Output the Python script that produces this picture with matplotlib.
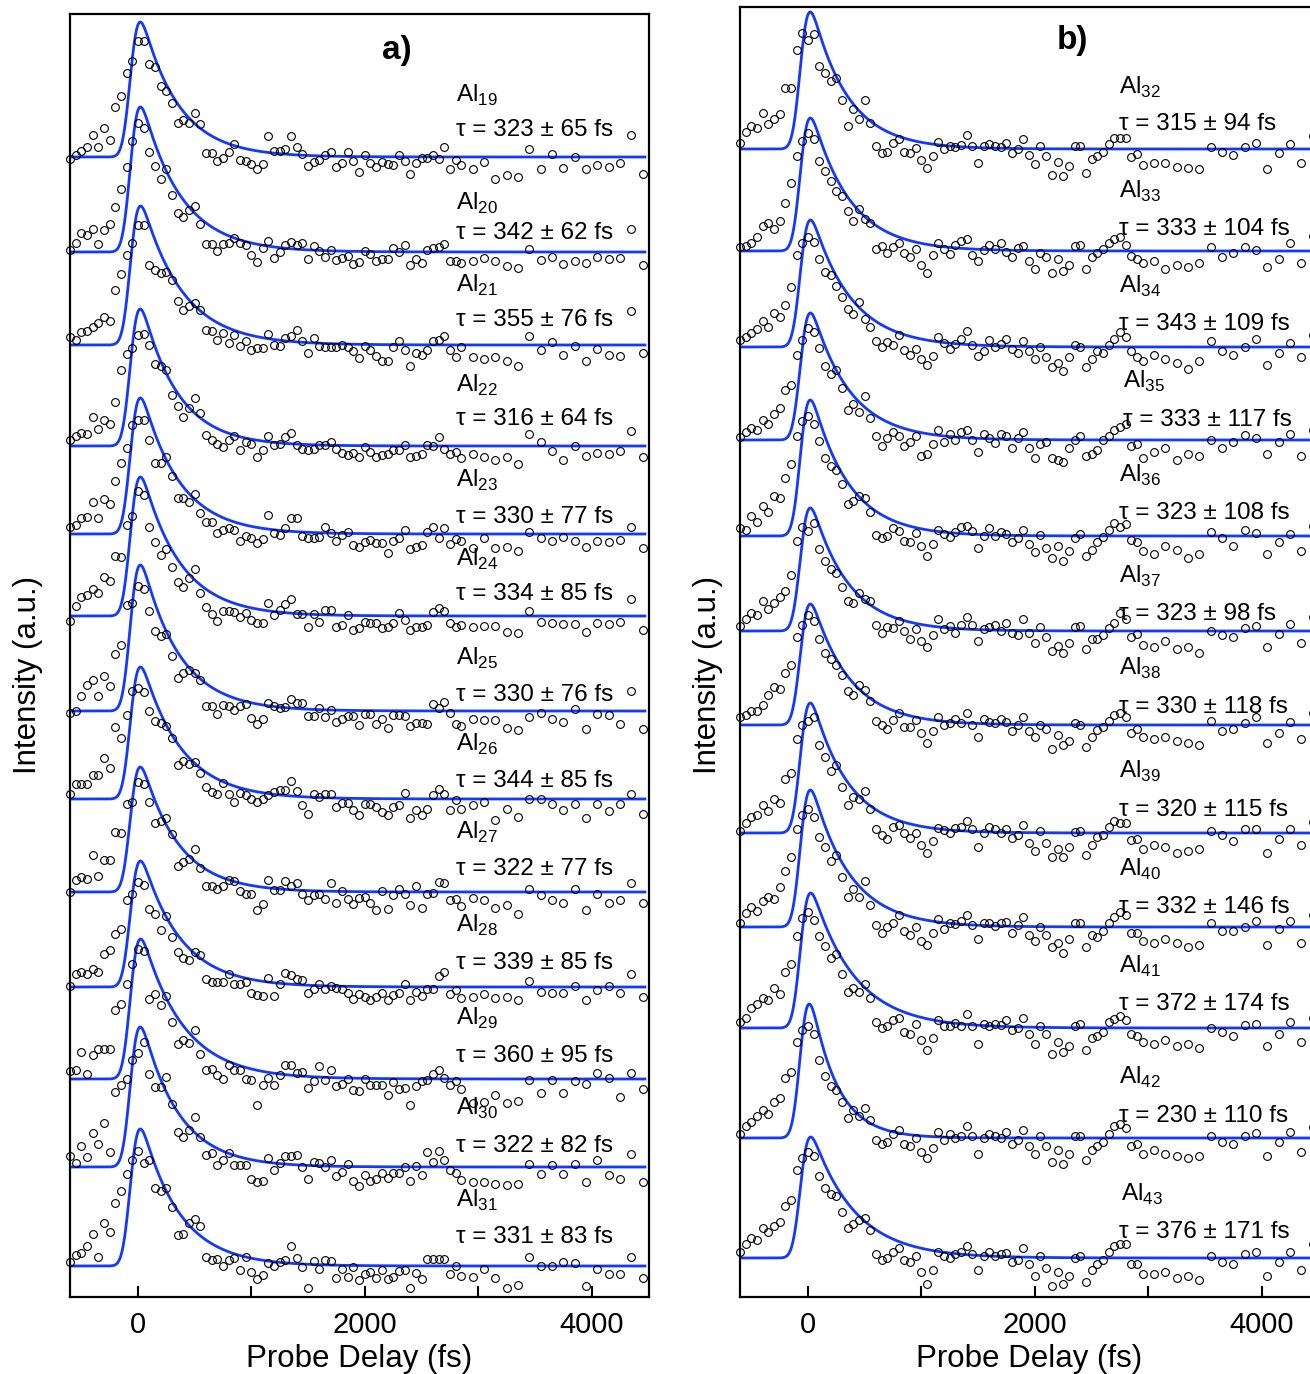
import math
import numpy as np
import matplotlib
matplotlib.use("Agg")
import matplotlib.pyplot as plt
from matplotlib.ticker import FixedLocator

plt.rcParams['font.family'] = ['Liberation Sans', 'DejaVu Sans']

# ---------------- data ----------------
# probe delays (fs)
delay_a = list(range(-600, 2900, 50)) + list(range(2950, 4500, 100))
delay_b = list(range(-600, 3000, 50)) + list(range(3050, 4550, 100))

clusters_a = [19, 20, 21, 22, 23, 24, 25, 26, 27, 28, 29, 30, 31]
tau_a = [323, 342, 355, 316, 330, 334, 330, 344, 322, 339, 360, 322, 331]
err_a = [65, 62, 76, 64, 77, 85, 76, 85, 77, 85, 95, 82, 83]
amp_a = [135, 145, 139, 137, 136, 139, 146, 132, 125, 126, 140, 140, 137]

clusters_b = [32, 33, 34, 35, 36, 37, 38, 39, 40, 41, 42, 43]
tau_b = [315, 333, 343, 333, 323, 323, 330, 320, 332, 372, 230, 376]
err_b = [94, 104, 109, 117, 108, 98, 118, 115, 146, 174, 110, 171]
amp_b = [137, 133, 127, 127, 136, 123, 121, 130, 137, 135, 134, 121]

# measured intensities (a.u.), one list per cluster size
I19 = [-2,2,6,10,22,10,29,17,50,61, 84,96,116,116,93,90,71,66,54,34, 37,34,44,33,4,4,-4,-1,5,13,
       -3,-4,-7,-12,-7,21,6,6,8,21, 10,3,-9,-5,-3,2,5,-10,-6,5, -4,-15,2,-6,-10,-5,-7,-8,2,-4,
       -17,-6,-1,-1,2,-2,10,-12,-3,-8, -12,-5,-22,-18,-20,8,-12,3,-11,0, -12,-8,-10,-6,22,-17]
I20 = [2,9,19,17,23,8,22,28,45,63, 85,111,129,124,100,86,73,83,57,39, 35,42,46,28,8,8,1,8,9,14,
       9,7,-3,-10,4,11,-6,0,7,10, 7,9,-7,6,1,-5,2,-8,-6,-4, -12,-10,1,-2,-9,-7,-7,4,0,7,
       -13,-7,-11,2,4,5,8,-9,-9,-11, -9,-6,-9,-14,-16,3,-8,-5,-12,-9, -11,-5,-7,-6,23,-13]
I21 = [8,5,13,14,18,22,28,24,55,71, 90,102,120,120,80,75,72,73,65,44, 35,39,42,35,15,14,5,12,2,10,
       -1,4,-5,-3,-3,11,0,-1,7,9, 15,4,-8,7,-1,-2,-2,-2,0,-2, -6,-13,-1,-5,-11,-16,-16,-2,4,-5,
       -21,-8,-10,-5,4,5,9,-5,-12,-2, -12,-14,-12,-16,-21,9,-5,3,-10,-1, -16,-4,-10,-11,34,-8]
I22 = [6,10,13,12,29,17,26,22,44,76, 92,98,111,112,101,82,80,76,51,40, 29,38,48,33,11,6,2,-1,6,10,
       -4,4,2,-11,-4,10,1,2,9,13, 1,-3,-4,-3,1,1,4,-3,-7,-9, -7,-11,-1,-6,-11,-9,-8,-4,-4,1,
       -11,-10,-8,1,0,9,-3,-8,-6,-12, -8,-11,-14,-11,-18,12,4,-5,-14,0, -10,-7,-8,-5,15,-11]
I23 = [7,9,16,17,32,16,35,30,53,71, 86,109,114,114,94,71,71,77,58,36, 36,32,40,21,12,12,1,4,6,4,
       -7,-2,-4,-9,-5,19,1,-1,6,16, 16,-2,-4,-4,-3,7,1,-7,-1,2, -11,-13,-8,-6,-9,-9,-19,-7,-4,4,
       -15,-13,-11,2,7,-4,6,-10,-5,-7, -14,-4,-14,-13,-17,2,-4,-7,-3,-7, -13,-7,-8,-6,7,-14]
I24 = [-5,10,19,21,27,23,39,35,60,59, 91,100,125,121,89,74,61,67,49,34, 29,38,47,23,9,2,-5,5,5,4,
       -1,3,-4,-7,-7,13,1,6,12,17, 2,2,-11,2,-6,6,6,-11,-9,1, -14,-12,-6,-7,-7,-12,-11,-7,3,-4,
       -14,-11,-11,-9,4,8,5,-7,-11,-9, -11,-10,-10,-16,-17,5,-6,-7,-8,-8, -16,-7,-8,-6,17,-14]
I25 = [-2,0,15,26,31,15,35,25,57,66, 106,108,125,122,100,80,75,77,55,33, 38,41,38,31,5,5,-3,6,5,1,
       5,7,-7,-13,-8,8,5,3,4,12, 8,8,-5,-5,3,-6,1,-11,-8,-5, -5,-14,-3,-3,-13,-8,-17,-4,-4,-5,
       -15,-12,-12,-13,7,3,9,-2,-13,-15, -8,-9,-9,-17,-19,-6,-2,-8,-11,2, -18,-3,-4,-13,20,-18]
I26 = [5,15,15,15,24,24,41,31,72,61, 84,108,111,107,88,78,76,73,61,34, 38,35,37,26,12,7,5,16,5,-3,
       6,4,0,-3,0,4,7,9,9,18, 8,-6,-15,5,2,5,5,-8,-4,-4, -11,-16,-5,-5,-8,-13,-16,-8,-6,6,
       -19,-11,-16,-10,4,10,5,-11,-1,-10, -6,-3,-21,-10,-18,0,0,-5,-11,-5, -19,-5,-12,-5,5,-15]
I27 = [0,12,15,13,37,16,32,32,60,59, 88,90,110,108,90,69,71,74,58,26, 30,33,43,24,6,6,3,6,12,11,
       1,-2,-2,-18,-12,12,2,2,11,6, 9,-2,-8,-3,-2,-7,9,-11,1,-7, -12,-6,-5,-11,-18,1,-17,-3,3,-2,
       -13,6,-16,-2,-1,10,9,-8,-7,-14, -6,-8,-16,-13,-22,3,-3,-8,-11,3, -18,-2,-11,-8,9,-11]
I28 = [1,13,15,13,18,15,33,37,53,58, 87,93,105,102,78,73,57,71,50,35, 29,27,35,32,8,5,5,5,13,3,
       3,5,-6,-8,-9,9,-9,3,14,12, 8,7,-6,-2,3,-2,1,-1,-2,-6, -12,-7,-10,-13,-10,-6,-13,-8,-6,3,
       -13,-5,-9,-2,-2,11,15,-7,-3,-11, -10,-7,-11,-10,-13,6,-5,-6,-6,1, -13,-3,1,-6,13,-10]
I29 = [8,9,27,5,24,30,30,30,69,75, 95,115,130,128,80,85,74,83,57,35, 39,36,49,25,9,10,4,0,14,9,
       9,0,-1,-26,-6,1,-6,4,14,14, 6,7,-9,-2,13,-1,9,-7,-5,0, -11,-12,0,-6,-6,-6,-16,-3,-10,-9,
       -26,-7,-2,-1,5,9,1,-6,-2,-10, -24,-23,-16,-24,-22,-1,-14,-1,-14,-2, -5,6,1,-18,6,-10]
I30 = [11,4,21,10,34,23,44,15,75,82, 88,107,114,125,93,80,80,90,63,35, 30,37,50,30,12,14,2,7,14,2,
       2,2,-12,-15,-14,9,-3,4,11,11, 12,0,-12,5,4,0,7,-9,-5,3, -14,-19,-8,-14,-12,-6,-11,-6,-6,0,
       -14,1,-8,15,5,16,7,-3,-6,-13, -15,-15,-17,-18,-17,3,-7,2,-7,3, -15,7,-8,-12,13,-15]
I31 = [4,11,13,20,32,9,43,34,63,75, 92,106,115,103,106,78,75,78,59,31, 32,43,47,40,9,6,7,0,6,8,
       -4,9,-6,-13,-9,3,0,4,6,20, 8,-1,-22,5,-3,6,5,-12,-3,-11, -1,-14,-8,-6,-12,-4,-13,-11,-5,-4,
       -22,-7,-13,7,7,7,7,-8,0,-10, -11,-3,-12,-22,-19,9,0,0,4,3, -20,-3,-8,-8,9,-12]

I32 = [6,17,23,21,36,25,30,35,61,61, 99,116,109,115,83,76,68,71,49,23, 40,30,49,26,3,-4,-3,6,10,-3,
       -4,1,-11,-19,-7,7,0,3,2,4, 14,3,-14,3,5,3,2,6,-4,0, 10,-6,-15,3,-7,-26,-13,-27,-17,3,
       3,-24,-10,-7,-3,5,11,11,11,-8, -5,-16,-14,-14,-18,-19,-20,2,-3,-6, 2,6,-20,-4,5,-14,13]
I33 = [4,5,8,14,25,28,22,30,48,68, 95,110,118,112,90,80,70,60,55,40, 30,42,32,28,2,5,-2,4,8,-2,
       -6,2,-14,-22,-4,8,2,-3,6,10, 12,-4,-10,1,6,2,8,-1,-6,3, 5,-10,-18,-2,-6,-22,-8,-20,-14,5,
       6,-18,-6,-2,2,8,12,14,6,-5, -8,-12,-10,-18,-14,-16,-12,4,-6,-2, 4,1,-16,-8,8,-12,15]
I34 = [7,10,14,18,26,20,34,30,42,60, 92,104,110,105,88,75,72,61,50,38, 33,45,28,20,6,0,5,2,12,-3,
       -8,-2,-12,-18,-9,10,4,-2,3,8, 16,2,-9,-4,7,0,3,8,-2,-6, 6,-4,-12,0,-10,-20,-16,-24,-10,2,
       0,-20,-12,-4,-6,2,8,15,10,-4, -10,-14,-8,-12,-16,-22,-14,6,-4,-8, 0,8,-18,-6,4,-10,12]
I35 = [3,8,12,10,20,16,26,32,50,55, 85,100,112,108,92,74,66,70,52,30, 36,28,44,22,4,-6,2,8,4,-6,
       -2,4,-16,-14,-4,10,-2,6,0,8, 10,0,-12,6,2,-3,6,4,-8,2, 8,-8,-18,-4,-2,-18,-20,-22,-8,0,
       4,-16,-14,-10,0,4,10,13,16,-6, -4,-18,-12,-8,-20,-14,-16,0,-8,-2, 5,2,-14,-2,6,-16,10]
I36 = [8,6,20,14,30,24,40,38,58,72, 100,115,120,112,95,78,70,66,52,32, 35,40,38,24,1,-2,0,8,5,-5,
       -6,3,-10,-20,-8,6,2,-1,4,9, 10,5,-12,0,8,0,4,2,-6,-2, 6,-8,-16,1,-12,-22,-10,-25,-15,-2,
       2,-20,-14,-6,-1,6,13,9,12,-4, -6,-15,-18,-10,-14,-22,-18,4,-2,-10, 6,3,-18,-6,2,-15,10]
I37 = [5,12,18,16,30,22,28,34,40,56, 90,104,100,108,82,70,62,58,44,30, 28,38,32,30,6,-2,4,3,10,0,
       -8,2,-10,-16,-4,12,2,5,-2,6, 14,6,-10,2,4,6,0,8,-2,-4, 12,-2,-12,4,-6,-20,-15,-22,-12,4,
       5,-18,-8,-8,-4,3,8,18,12,-6, -3,-14,-16,-10,-18,-16,-22,0,-4,-6, 3,5,-16,-3,7,-12,14]
I38 = [8,10,14,14,20,30,38,36,52,60, 88,100,110,104,86,72,66,60,50,34, 30,40,35,24,4,0,-4,5,12,-2,
       -2,5,-8,-18,-6,8,0,2,6,2, 12,0,-12,6,3,2,6,3,-6,0, 8,-6,-12,0,-4,-24,-10,-20,-16,2,
       0,-22,-12,-5,-2,4,10,12,8,-8, -4,-12,-14,-12,-16,-18,-20,4,-6,-4, 2,8,-18,-8,3,-14,12]
I39 = [2,10,16,18,28,22,34,30,54,60, 94,108,112,116,88,76,62,68,46,28, 36,34,42,24,4,-2,-6,6,8,0,
       -5,0,-12,-20,-8,5,3,0,5,6, 12,4,-14,0,6,4,0,4,-5,-2, 8,-10,-18,2,-10,-24,-16,-24,-14,1,
       2,-22,-12,-4,-2,6,12,10,10,-7, -6,-16,-12,-14,-20,-18,-16,2,-2,-8, 4,4,-20,-6,4,-12,11]
I40 = [4,14,20,16,26,30,28,40,56,70, 98,112,118,110,90,80,66,72,50,30, 38,30,46,22,2,-6,0,4,12,-4,
       -8,0,-14,-18,-6,8,-2,4,3,6, 12,2,-12,4,4,1,4,5,-6,2, 10,-8,-14,0,-8,-20,-16,-26,-12,4,
       4,-20,-8,-10,-4,4,10,15,12,-6, -6,-14,-16,-12,-16,-20,-18,4,-4,-4, 0,6,-18,-2,6,-16,12]
I41 = [6,10,20,24,30,28,40,34,56,64, 92,110,116,108,92,82,70,74,54,36, 40,36,44,30,6,0,2,8,10,-4,
       -6,4,-12,-22,-10,8,2,2,5,2, 14,2,-16,4,2,4,3,8,-2,0, 10,-6,-16,2,-6,-26,-14,-24,-18,2,
       4,-22,-10,-8,-4,6,9,12,8,-6, -8,-14,-16,-12,-18,-16,-20,0,-4,-8, 3,4,-18,-6,6,-14,10]
I42 = [4,12,16,22,28,24,36,40,60,66, 96,108,112,104,78,62,52,48,36,20, 28,22,30,18,-2,-6,-4,4,8,-6,
       -8,0,-14,-20,-10,6,-2,4,0,2, 12,2,-16,0,4,2,0,6,-6,-2, 8,-8,-16,2,-8,-24,-12,-26,-16,2,
       2,-22,-12,-8,-4,4,12,14,10,-8, -6,-16,-12,-16,-18,-20,-18,2,-4,-6, 2,5,-18,-4,6,-14,11]
I43 = [6,14,20,18,30,26,32,36,52,58, 88,100,106,102,82,70,64,62,46,30, 34,38,40,28,4,-2,0,6,10,-2,
       -4,2,-14,-26,-12,6,2,0,4,6, 12,4,-12,2,6,2,4,5,-4,-2, 10,-6,-18,2,-10,-28,-14,-26,-18,0,
       2,-24,-12,-6,-2,6,12,14,14,-6, -6,-16,-16,-14,-20,-18,-22,2,-4,-6, 4,6,-18,-4,6,-12,14]

data_a = [I19, I20, I21, I22, I23, I24, I25, I26, I27, I28, I29, I30, I31]
data_b = [I32, I33, I34, I35, I36, I37, I38, I39, I40, I41, I42, I43]

# ---------------- layout (vertical stacking, label placement) ----------------
offset_a = [1140, 1045, 952, 851, 763, 681, 586, 498, 405, 310, 218, 130, 31]
offset_b = [1148, 1046, 950, 857, 761, 666, 572, 464, 370, 269, 159, 39]
lab_dy_a = [55, 42, 53, 54, 47, 50, 46, 48, 53, 55, 54, 52, 59]
tau_dy_a = [21, 13, 19, 21, 11, 16, 10, 12, 17, 18, 17, 15, 23]
lab_dy_b = [55, 53, 54, 52, 54, 48, 50, 55, 51, 55, 54, 57]
tau_dy_b = [19, 16, 17, 14, 17, 11, 12, 17, 14, 18, 16, 20]
lab_x_b = [2738, 2738, 2738, 2780, 2738, 2738, 2738, 2738, 2738, 2738, 2738, 2760]
tau_x_b = [2738, 2738, 2738, 2780, 2738, 2738, 2738, 2738, 2738, 2738, 2738, 2738]

SIGMA, T0 = 55.0, -65.0
erfc = np.vectorize(math.erfc)


def fit_curve(t, tau):
    t = np.asarray(t, float)
    z = (t - T0) / SIGMA - SIGMA / tau
    f = np.exp(SIGMA ** 2 / (2 * tau ** 2) - (t - T0) / tau) * 0.5 * erfc(-z / np.sqrt(2))
    return f / f.max()


BLUE = '#1438ff'
W, H = 1310, 1374
fig = plt.figure(figsize=(W / 100, H / 100), dpi=100)
ax_a = fig.add_axes([70 / W, 77 / H, 579 / W, 1283 / H])
ax_b = fig.add_axes([740 / W, 77 / H, 579 / W, 1290 / H])


def draw(ax, delays, t_end, clusters, taus, errs, amps, data, offs, ldy, tdy, lxs, txs,
         ylim, letter, lx, ly, ylab_xy):
    t_dense = np.linspace(-600, t_end, 1500)
    for i, n in enumerate(clusters):
        off = offs[i]
        ax.plot(t_dense, off + amps[i] * fit_curve(t_dense, taus[i]), color=BLUE, lw=2.0, zorder=2)
        d = np.asarray(data[i], float)
        ax.plot(delays[:len(d)], off + d, 'o', ms=5.6, mfc='none', mec='black', mew=0.8,
                zorder=3, clip_on=False)
        ax.text(lxs[i], off + ldy[i], 'Al$_{\\mathregular{%d}}$' % n, fontsize=17.5,
                ha='left', va='baseline', zorder=4)
        ax.text(txs[i], off + tdy[i], '\u03c4 = %d \u00b1 %d fs' % (taus[i], errs[i]), fontsize=17.5,
                ha='left', va='baseline', zorder=4)
    ax.set_xlim(-600, 4506)
    ax.set_ylim(0, ylim)
    ax.set_yticks([])
    ax.xaxis.set_major_locator(FixedLocator([0, 2000, 4000]))
    ax.xaxis.set_minor_locator(FixedLocator([1000, 3000]))
    ax.tick_params(axis='x', which='both', direction='in', length=8, width=1.5, labelsize=21, pad=10)
    for s in ax.spines.values():
        s.set_linewidth(1.6)
    ax.set_xlabel('Probe Delay (fs)', fontsize=22.5, labelpad=4)
    ax.set_ylabel('Intensity (a.u.)', fontsize=22.5)
    ax.yaxis.set_label_coords(*ylab_xy)
    ax.text(lx, ly, letter, fontsize=24, fontweight='bold', ha='center', va='center')


draw(ax_a, delay_a, 4470, clusters_a, tau_a, err_a, amp_a, data_a, offset_a, lab_dy_a, tau_dy_a,
     [2800] * 13, [2800] * 13, 1283, 'a)', 2280, 1283 - 36, (-0.047, 0.485))
draw(ax_b, delay_b, 4600, clusters_b, tau_b, err_b, amp_b, data_b, offset_b, lab_dy_b, tau_dy_b,
     lab_x_b, tau_x_b, 1290, 'b)', 2330, 1290 - 33, (-0.030, 0.482))

fig.savefig('out.png', dpi=100)
